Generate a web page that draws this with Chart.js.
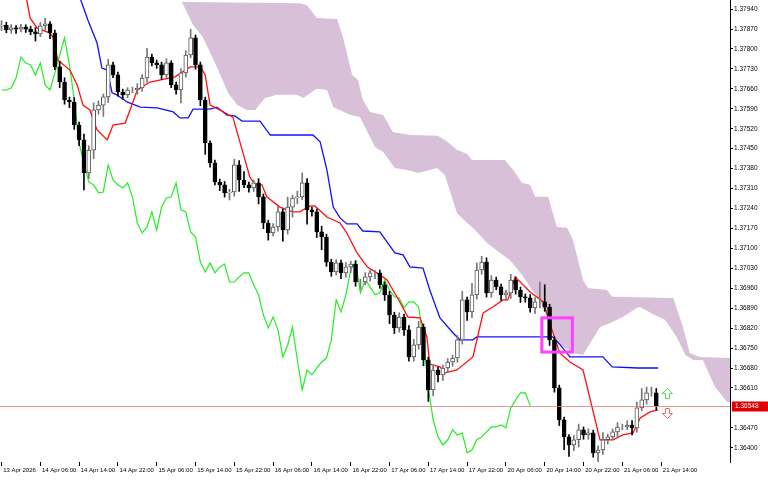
<!DOCTYPE html>
<html><head><meta charset="utf-8">
<script src="https://cdn.jsdelivr.net/npm/chart.js@4.4.1/dist/chart.umd.min.js"></script>
<style>html,body{margin:0;padding:0;background:#fff;}canvas{display:block;}</style>
</head><body>
<canvas id="c" width="768" height="480"></canvas>
<script>
const closes=[1.37884,1.37867,1.37874,1.37870,1.37877,1.37870,1.37860,1.37853,1.37881,1.37888,1.37856,
1.37737,1.37684,1.37621,1.37614,1.37533,1.37481,1.37365,1.37445,1.37586,1.37603,
1.37632,1.37744,1.37709,1.37649,1.37639,1.37656,1.37656,1.37663,1.37698,1.37772,
1.37751,1.37744,1.37709,1.37751,1.37674,1.37656,1.37716,1.37779,1.37839,1.37744,
1.37621,1.37470,1.37400,1.37333,1.37323,1.37295,1.37298,1.37393,1.37340,1.37323,
1.37312,1.37330,1.37281,1.37189,1.37154,1.37175,1.37228,1.37165,1.37245,1.37277,
1.37281,1.37330,1.37235,1.37228,1.37158,1.37140,1.37052,1.37017,1.37049,1.37014,
1.37035,1.37045,1.36982,1.36982,1.37000,1.37014,1.37014,1.36972,1.36937,1.36866,
1.36821,1.36859,1.36814,1.36719,1.36761,1.36824,1.36708,1.36603,1.36673,1.36656,
1.36680,1.36701,1.36715,1.36779,1.36919,1.36877,1.36937,1.37024,1.37052,1.36944,
1.36989,1.36965,1.36937,1.36944,1.36989,1.36954,1.36930,1.36926,1.36891,1.36912,
1.36912,1.36894,1.36779,1.36610,1.36498,1.36438,1.36410,1.36428,1.36463,1.36445,
1.36452,1.36382,1.36392,1.36428,1.36438,1.36456,1.36473,1.36473,1.36480,1.36470,
1.36540,1.36568,1.36593,1.36593,1.36548];
const firstOpen=1.37880;
const hiExt=[15,10,12,8,10,8,10,15,12,20,8,
10,20,15,10,15,10,20,15,25,15,
10,20,10,10,10,8,10,15,12,30,
10,10,10,15,8,10,15,15,30,10,
10,10,8,10,10,12,10,20,15,30,
10,10,15,10,10,12,20,10,35,10,
20,35,15,10,10,20,10,10,12,10,
15,10,12,10,15,10,8,10,10,12,
10,15,10,15,20,20,10,10,15,10,
10,12,10,15,30,10,40,25,20,15,
15,10,10,10,20,10,10,10,12,15,
70,60,10,10,10,10,8,15,20,10,
15,10,15,25,10,10,15,10,15,15,
20,40,20,20,15];
const loExt=[15,10,12,15,10,12,10,25,10,15,20,
10,20,15,20,15,20,60,20,30,15,
40,20,10,15,15,10,10,15,12,15,
10,12,15,10,10,15,45,15,10,15,
20,40,15,10,20,15,25,15,40,10,
15,12,25,20,25,10,15,40,15,35,
20,10,50,15,20,45,15,15,10,20,
15,20,15,25,10,15,20,12,20,30,
20,15,20,15,15,15,20,40,20,25,
20,15,15,15,15,30,20,15,15,15,
15,10,20,20,20,15,20,15,15,20,
20,15,20,15,20,45,40,20,25,15,
15,15,35,15,15,10,20,10,10,25,
15,10,15,12,15];
const tenkanIdx=[5,5.9,7.3,10,10.6,11.6,14.1,15.6,16.8,18.2,19.7,21.8,23,25.5,26.5,28,30.6,35.8,38.9,41,42,43,45,47.7,51.2,52.3,53.7,54.7,57.4,60,61.5,63.6,64.6,67.1,69.8,71.2,73.3,75.4,78,79.5,82.2,83.8,86.3,87.7,88.3,90.4,91.5,93.9,97.2,99.3,101.3,103.4,104.4,105.9,109,111.7,113.5,115.1,117.2,119.9,123.4,126.1,128.1,130.2,131.7,133.7,135.4];
const tenkanVal=[1.37990,1.37909,1.37874,1.37856,1.37842,1.37761,1.37726,1.37674,1.37603,1.37586,1.37516,1.37481,1.37533,1.37540,1.37586,1.37656,1.37684,1.37702,1.37737,1.37737,1.37709,1.37603,1.37586,1.37561,1.37351,1.37323,1.37323,1.37281,1.37245,1.37228,1.37228,1.37249,1.37249,1.37210,1.37189,1.37154,1.37084,1.37035,1.37007,1.36989,1.36909,1.36859,1.36856,1.36789,1.36694,1.36684,1.36663,1.36673,1.36719,1.36873,1.36894,1.36919,1.36919,1.37000,1.36947,1.36912,1.36814,1.36733,1.36701,1.36673,1.36428,1.36428,1.36445,1.36452,1.36505,1.36526,1.36533];
const kijunIdx=[16.2,17.8,19.7,20.7,21.8,22.8,23.8,25.9,28.6,32.1,35.4,36.8,38.5,39.5,43,44.4,46.5,48.1,49.6,53.3,55.4,64.2,65.7,67.1,68.4,69.8,71.2,73.3,74.5,78,81.1,82.8,84.2,86.9,88.3,90.4,93.1,94.5,97.2,98,113.7,115.2,117.2,124,125.9,131.2,135.4];
const kijunVal=[1.37979,1.37902,1.37821,1.37733,1.37726,1.37646,1.37639,1.37614,1.37596,1.37593,1.37579,1.37558,1.37558,1.37589,1.37589,1.37596,1.37568,1.37565,1.37547,1.37547,1.37498,1.37498,1.37474,1.37375,1.37245,1.37207,1.37186,1.37186,1.37161,1.37158,1.37084,1.37077,1.37035,1.37031,1.36954,1.36856,1.36803,1.36779,1.36779,1.36789,1.36789,1.36761,1.36719,1.36719,1.36684,1.36680,1.36680];
const spanTopIdx=[37.2,61.5,63,65,69.2,70.4,72.3,73.5,74.5,76,78.7,80.7,84.2,90,91.9,93.9,96,97,103.8,105.5,107.3,109,110,112.7,114.5,116.6,117.8,119.9,120.9,124.8,125.9,138.5,140.5,141.9,144,151.2];
const spanTopVal=[1.37965,1.37961,1.37954,1.37909,1.37905,1.37842,1.37709,1.37691,1.37621,1.37579,1.37568,1.37509,1.37498,1.37495,1.37474,1.37446,1.37431,1.37410,1.37410,1.37375,1.37330,1.37323,1.37281,1.37281,1.37175,1.37172,1.37130,1.36989,1.36961,1.36954,1.36930,1.36926,1.36824,1.36733,1.36719,1.36715];
const spanBotIdx=[37.2,39.5,41.5,44.4,46.7,48.6,50.6,52.3,54.3,56.8,60.9,62.2,65,67.1,68.4,71.9,73.9,77,78.7,81.1,83.6,85.9,89.8,91.4,93.9,96,97.6,100.1,102.8,104.8,107.3,109.4,111,114.5,117.8,119.9,123.4,125.5,128.1,131,131.6,134.7,136.8,139.3,141,142.6,144.6,147.1,149.6,151.2];
const spanBotVal=[1.37965,1.37884,1.37842,1.37737,1.37646,1.37603,1.37586,1.37586,1.37628,1.37639,1.37639,1.37628,1.37660,1.37656,1.37596,1.37568,1.37561,1.37456,1.37438,1.37382,1.37375,1.37365,1.37382,1.37358,1.37224,1.37189,1.37165,1.37119,1.37084,1.37059,1.37007,1.36954,1.36919,1.36768,1.36733,1.36726,1.36824,1.36838,1.36859,1.36891,1.36894,1.36866,1.36849,1.36786,1.36726,1.36708,1.36708,1.36614,1.36561,1.36557];
const timeLabels=['13 Apr 2026','14 Apr 06:00','14 Apr 14:00','14 Apr 22:00','15 Apr 06:00','15 Apr 14:00','15 Apr 22:00','16 Apr 06:00','16 Apr 14:00','16 Apr 22:00','17 Apr 06:00','17 Apr 14:00','17 Apr 22:00','20 Apr 06:00','20 Apr 14:00','20 Apr 22:00','21 Apr 06:00','21 Apr 14:00'];
const barsPerLabel=8;
const priceTicks=[1.37940,1.37870,1.37800,1.37730,1.37660,1.37590,1.37520,1.37450,1.37380,1.37310,1.37240,1.37170,1.37100,1.37030,1.36960,1.36890,1.36820,1.36750,1.36680,1.36610,1.36470,1.36400];
const lastPrice=1.36548;
const boxRange={x0:111.4,x1:117.7,p0:1.36856,p1:1.36736};
const arrowPos={x:137.3,up:1.36590,down:1.36520};
const chikouShift=26;

const opens=closes.map((c,i)=>i===0?firstOpen:closes[i-1]);
const bodies=closes.map((c,i)=>({x:i,y:[opens[i],c]}));
const wicks=closes.map((c,i)=>({x:i,y:[Math.min(opens[i],c)-loExt[i]*1e-5,Math.max(opens[i],c)+hiExt[i]*1e-5]}));
const bull=closes.map((c,i)=>c>=opens[i]);
const zip=(a,b)=>a.map((x,i)=>({x,y:b[i]}));
const chikou=closes.slice(chikouShift).map((c,i)=>({x:i,y:c}));
const FONT='"Liberation Sans"';

const overlay={id:'overlay',
 afterDatasetsDraw(ch){
  const {ctx,scales:{x,y},chartArea:a}=ch;
  ctx.save();
  const py=Math.round(y.getPixelForValue(lastPrice))+0.5;
  ctx.strokeStyle='rgba(230,120,120,0.8)';ctx.lineWidth=1;
  ctx.beginPath();ctx.moveTo(a.left,py);ctx.lineTo(a.right,py);ctx.stroke();
  ctx.strokeStyle='#ff40ff';ctx.lineWidth=3;
  const bx0=x.getPixelForValue(boxRange.x0),bx1=x.getPixelForValue(boxRange.x1);
  const by0=y.getPixelForValue(boxRange.p0),by1=y.getPixelForValue(boxRange.p1);
  ctx.strokeRect(bx0,by0,bx1-bx0,by1-by0);
  const ax=x.getPixelForValue(arrowPos.x);
  const drawArrow=(cy,dir,col)=>{
    ctx.strokeStyle=col;ctx.lineWidth=1;ctx.beginPath();
    const h=5*dir;
    ctx.moveTo(ax,cy-h);ctx.lineTo(ax+5,cy);ctx.lineTo(ax+2,cy);ctx.lineTo(ax+2,cy+h);
    ctx.lineTo(ax-2,cy+h);ctx.lineTo(ax-2,cy);ctx.lineTo(ax-5,cy);ctx.closePath();ctx.stroke();
  };
  drawArrow(y.getPixelForValue(arrowPos.up),1,'#50d050');
  drawArrow(y.getPixelForValue(arrowPos.down),-1,'#f06060');
  ctx.fillStyle='#e00000';ctx.fillRect(a.right+2,py-5,36,10);
  ctx.fillStyle='#fff';ctx.font='6.5px '+FONT;ctx.textBaseline='middle';
  ctx.fillText(lastPrice.toFixed(5),a.right+5,py);
  ctx.restore();
 }};

new Chart(document.getElementById('c'),{
 type:'bar',
 data:{datasets:[
  {type:'line',data:zip(spanTopIdx,spanTopVal),borderWidth:0,pointRadius:0,borderColor:'rgba(0,0,0,0)',fill:false,order:10},
  {type:'line',data:zip(spanBotIdx,spanBotVal),borderWidth:0,pointRadius:0,borderColor:'rgba(0,0,0,0)',backgroundColor:'rgb(216,192,216)',fill:'-1',order:9},
  {type:'line',data:chikou,borderColor:'#22ee22',borderWidth:1.2,pointRadius:0,fill:false,order:5},
  {type:'line',data:zip(kijunIdx,kijunVal),borderColor:'#1010ff',borderWidth:1.3,pointRadius:0,fill:false,order:4},
  {type:'line',data:zip(tenkanIdx,tenkanVal),borderColor:'#ff1010',borderWidth:1.3,pointRadius:0,fill:false,order:3},
  {data:wicks,barThickness:1,grouped:false,backgroundColor:bull.map(b=>b?'#777':'#000'),borderWidth:0,order:2},
  {data:bodies,barThickness:4,grouped:false,backgroundColor:bull.map(b=>b?'#fff':'#000'),borderColor:bull.map(b=>b?'#555':'#000'),borderWidth:1,borderSkipped:false,order:1}
 ]},
 options:{responsive:false,animation:false,devicePixelRatio:1,
  layout:{padding:0},
  plugins:{legend:{display:false},tooltip:{enabled:false}},
  scales:{
   x:{type:'linear',min:-0.31,max:150.2,offset:false,
    grid:{display:true,drawOnChartArea:false,drawTicks:true,tickLength:4,color:'#000',offset:false},
    border:{display:false},
    afterBuildTicks(s){s.ticks=timeLabels.map((l,k)=>({value:k*barsPerLabel}));},
    afterFit(s){s.height=18;s.paddingLeft=0;s.paddingRight=0;},
    ticks:{align:'start',padding:1,autoSkip:false,maxRotation:0,font:{size:6,family:'Liberation Sans'},color:'#000',
      callback:(v,k)=>' '+timeLabels[k]}},
   y:{position:'right',min:1.36350,max:1.37972,
    grid:{display:true,drawOnChartArea:false,drawTicks:true,tickLength:3,color:'#000'},
    border:{display:true,color:'#000'},
    afterBuildTicks(s){s.ticks=priceTicks.map(v=>({value:v}));},
    afterFit(s){s.width=38;s.paddingTop=0;s.paddingBottom=0;},
    ticks:{padding:1,font:{size:6.5,family:'Liberation Sans'},color:'#000',callback:v=>v.toFixed(5)}}
  }},
 plugins:[overlay]
});
</script></body></html>
